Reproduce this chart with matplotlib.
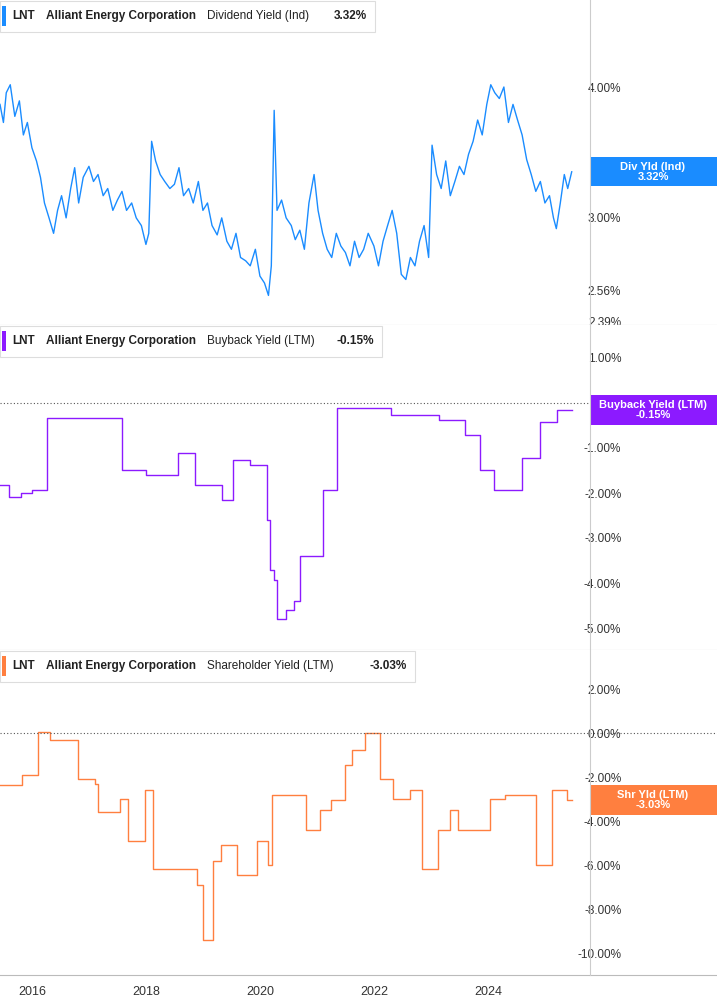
import matplotlib
matplotlib.use("Agg")
import matplotlib.pyplot as plt
import numpy as np

# Dividend yield (%) — (decimal year, value)
div_t = [2015.44,2015.5,2015.55,2015.62,2015.7,2015.78,2015.85,2015.92,2016.0,2016.08,2016.15,2016.22,2016.3,2016.38,2016.45,2016.52,2016.6,2016.68,2016.75,2016.82,2016.9,2017.0,2017.08,2017.16,2017.25,2017.33,2017.42,2017.5,2017.58,2017.66,2017.75,2017.83,2017.92,2018.0,2018.05,2018.1,2018.17,2018.25,2018.33,2018.42,2018.5,2018.58,2018.66,2018.75,2018.83,2018.92,2019.0,2019.08,2019.16,2019.25,2019.33,2019.42,2019.5,2019.58,2019.66,2019.75,2019.83,2019.92,2020.0,2020.08,2020.15,2020.2,2020.25,2020.3,2020.38,2020.46,2020.55,2020.62,2020.7,2020.78,2020.86,2020.95,2021.02,2021.1,2021.18,2021.26,2021.34,2021.42,2021.5,2021.58,2021.66,2021.74,2021.82,2021.9,2022.0,2022.08,2022.16,2022.24,2022.32,2022.4,2022.48,2022.56,2022.64,2022.72,2022.8,2022.88,2022.96,2023.02,2023.1,2023.18,2023.26,2023.34,2023.42,2023.5,2023.58,2023.66,2023.74,2023.82,2023.9,2023.98,2024.05,2024.12,2024.2,2024.28,2024.36,2024.44,2024.52,2024.6,2024.68,2024.76,2024.84,2024.92,2025.0,2025.08,2025.15,2025.2,2025.27,2025.34,2025.4,2025.47]
div_v = [3.85,3.70,3.95,4.02,3.75,3.88,3.60,3.70,3.50,3.40,3.28,3.10,3.00,2.90,3.05,3.15,3.00,3.20,3.35,3.10,3.28,3.36,3.25,3.30,3.15,3.20,3.05,3.12,3.18,3.05,3.10,3.00,2.95,2.83,2.90,3.55,3.40,3.30,3.25,3.20,3.23,3.35,3.15,3.20,3.10,3.25,3.05,3.10,2.95,2.89,3.00,2.85,2.80,2.90,2.75,2.73,2.70,2.80,2.64,2.60,2.53,2.70,3.80,3.05,3.12,3.00,2.95,2.86,2.92,2.80,3.10,3.30,3.05,2.90,2.80,2.75,2.90,2.82,2.78,2.70,2.85,2.75,2.80,2.90,2.82,2.70,2.85,2.95,3.05,2.90,2.65,2.62,2.75,2.70,2.85,2.95,2.75,3.52,3.30,3.20,3.40,3.15,3.25,3.36,3.30,3.45,3.55,3.72,3.60,3.85,4.02,3.95,3.90,4.00,3.70,3.85,3.72,3.60,3.41,3.30,3.18,3.25,3.10,3.15,3.00,2.93,3.10,3.30,3.20,3.32]

# Buyback yield (%) — step breakpoints
bb_t = [2015.44,2015.6,2015.8,2016.0,2016.27,2017.58,2018.0,2018.56,2018.86,2019.33,2019.52,2019.82,2020.12,2020.18,2020.25,2020.3,2020.45,2020.6,2020.7,2021.1,2021.35,2022.3,2023.15,2023.6,2023.86,2024.1,2024.6,2024.92,2025.22,2025.47]
bb_v = [-1.82,-2.1,-2.0,-1.93,-0.33,-1.49,-1.60,-1.11,-1.82,-2.16,-1.27,-1.38,-2.60,-3.70,-3.93,-4.80,-4.60,-4.40,-3.40,-1.93,-0.11,-0.27,-0.38,-0.71,-1.49,-1.93,-1.22,-0.42,-0.15,-0.15]

# Shareholder yield (%) — step breakpoints
sh_t = [2015.44,2015.82,2016.1,2016.31,2016.8,2017.1,2017.16,2017.54,2017.68,2017.98,2018.13,2018.9,2019.0,2019.18,2019.32,2019.59,2019.94,2020.15,2020.22,2020.8,2021.06,2021.24,2021.5,2021.62,2021.84,2022.1,2022.33,2022.63,2022.84,2023.12,2023.33,2023.47,2024.03,2024.3,2024.85,2025.12,2025.38,2025.47]
sh_v = [-2.36,-1.90,0.05,-0.30,-2.10,-2.30,-3.60,-3.00,-4.90,-2.60,-6.20,-6.90,-9.40,-5.80,-5.10,-6.45,-4.90,-6.00,-2.80,-4.40,-3.50,-3.05,-1.45,-0.77,0.00,-2.10,-3.00,-2.60,-6.20,-4.40,-3.50,-4.40,-3.00,-2.80,-6.00,-2.60,-3.03,-3.03]

years = [2016, 2018, 2020, 2022, 2024]

plt.rcParams['font.family'] = 'Liberation Sans'
W, H = 717, 1005
fig = plt.figure(figsize=(W/100, H/100), dpi=100)
XL = (2015.44, 2015.44 + 717/57.0)
panels = [(0, 325), (325, 650), (650, 975)]
axes = []
for (t, b) in panels:
    ax = fig.add_axes([0, 1 - b/H, 1.0, (b - t)/H])
    ax.set_xlim(*XL)
    for s in ax.spines.values():
        s.set_visible(False)
    ax.spines['bottom'].set_visible(True)
    ax.spines['bottom'].set_color('#bbbbbb')
    ax.tick_params(axis='x', length=0, labelbottom=False)
    ax.yaxis.tick_right()
    ax.tick_params(axis='y', direction='in', pad=-8, length=0, labelsize=8.5, labelcolor='#333333')
    axes.append(ax)
fig.add_artist(plt.Line2D([590/W, 590/W], [1-975/H, 1], color='#cccccc', lw=0.8))

def ylab(ax, vals, fmt):
    ax.set_yticks(vals)
    ax.set_yticklabels([fmt % v for v in vals])
    for lab in ax.get_yticklabels():
        lab.set_horizontalalignment('right')
        lab.set_x(0.882)

a1 = axes[0]
a1.plot(div_t, div_v, color='#1a8cff', lw=1)
a1.set_yscale('log')
a1.set_ylim(4*np.exp(-(325-87)/455), 4*np.exp(87/455))
a1.minorticks_off()
ylab(a1, [4.0, 3.0, 2.56, 2.39], '%.2f%%')
a1.get_yticklabels()[-1].set_y(2.41)

a2 = axes[1]
a2.step(bb_t, bb_v, where='post', color='#8c1aff', lw=1)
a2.set_ylim((403-650)/45, (403-325)/45)
ylab(a2, [1, -1, -2, -3, -4, -5], '%.2f%%')
a2.axhline(0, color='#555555', lw=0.8, ls=(0, (1, 2)))

a3 = axes[2]
a3.step(sh_t, sh_v, where='post', color='#ff7f3f', lw=1)
a3.set_ylim((733-975)/22, (733-650)/22)
ylab(a3, [2, 0, -2, -4, -6, -8, -10], '%.2f%%')
a3.axhline(0, color='#555555', lw=0.8, ls=(0, (1, 2)))
for yr in years:
    fig.text((yr - XL[0]) / (XL[1] - XL[0]), 1 - 992/H, str(yr), ha='center', va='center', fontsize=9, color='#333333')

heads = [(0, 'Dividend Yield (Ind)', '3.32%', '#1a8cff', 375),
         (325, 'Buyback Yield (LTM)', '-0.15%', '#8c1aff', 382),
         (650, 'Shareholder Yield (LTM)', '-3.03%', '#ff7f3f', 415)]
for top, name, val, c, wpx in heads:
    fig.patches.append(plt.Rectangle((0, 1-(top+32)/H), wpx/W, 31/H, transform=fig.transFigure, facecolor='white', edgecolor='#dddddd', lw=0.8))
    fig.patches.append(plt.Rectangle((2/W, 1-(top+26)/H), 4/W, 20/H, transform=fig.transFigure, facecolor=c))
    yc = 1-(top+16)/H
    fig.text(12/W, yc, 'LNT', fontsize=8.5, fontweight='bold', va='center', color='#222222')
    fig.text(46/W, yc, 'Alliant Energy Corporation', fontsize=8.5, fontweight='bold', va='center', color='#222222')
    fig.text(207/W, yc, name, fontsize=8.5, va='center', color='#222222')
    fig.text((wpx-8)/W, yc, val, fontsize=8.5, fontweight='bold', va='center', ha='right', color='#222222')

boxes = [(157, 186, 'Div Yld (Ind)\n3.32%', '#1a8cff'),
         (395, 425, 'Buyback Yield (LTM)\n-0.15%', '#8c1aff'),
         (785, 815, 'Shr Yld (LTM)\n-3.03%', '#ff7f3f')]
for t, b, txt, c in boxes:
    fig.patches.append(plt.Rectangle((590/W, 1-b/H), 127/W, (b-t)/H, transform=fig.transFigure, facecolor=c))
    fig.text(653/W, 1-(t+b)/2/H, txt, ha='center', va='center', fontsize=8, fontweight='bold', color='white', linespacing=1.0)

fig.savefig('out.png', dpi=100)
